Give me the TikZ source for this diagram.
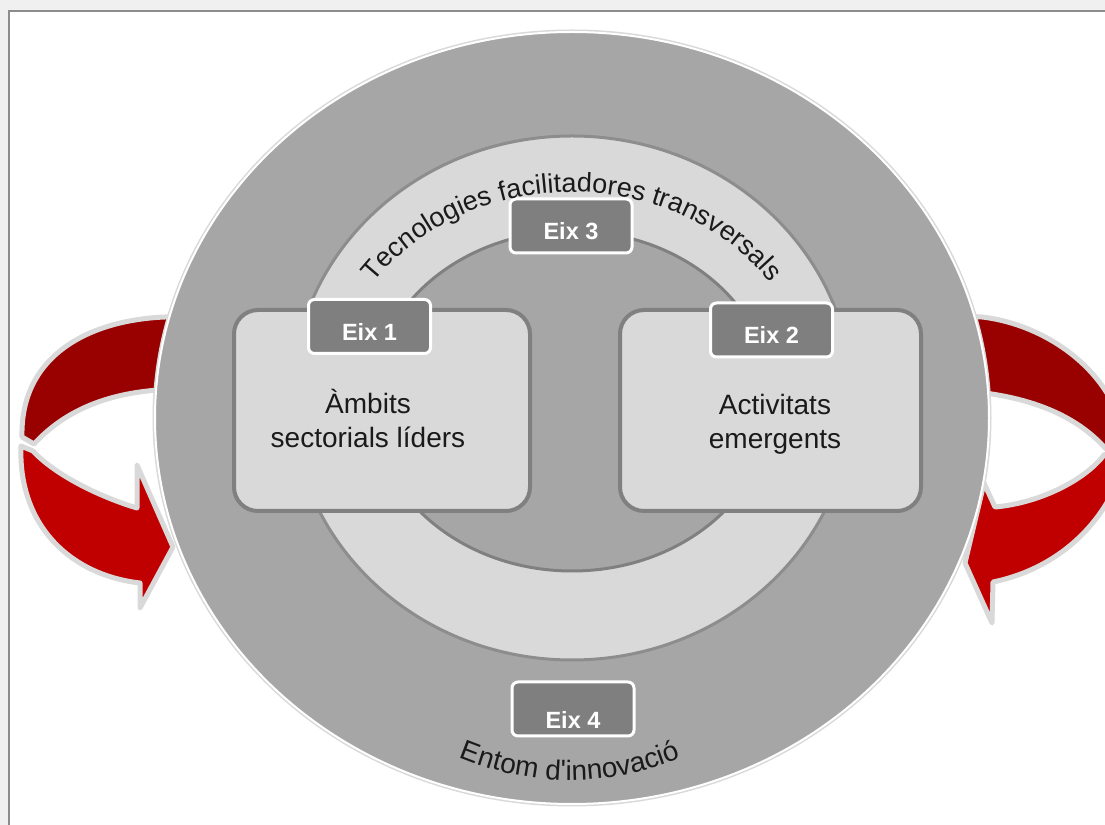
\documentclass[tikz,border=0pt]{standalone}
\usepackage{fontspec}
\setmainfont{Liberation Sans}[Ligatures=TeXOff]
\usetikzlibrary{decorations.text}

\definecolor{framegray}{HTML}{8C8C8C}
\definecolor{outergray}{HTML}{A6A6A6}
\definecolor{ringgray}{HTML}{D9D9D9}
\definecolor{edgegray}{HTML}{808080}
\definecolor{tabgray}{HTML}{7F7F7F}
\definecolor{darkred}{HTML}{990000}
\definecolor{brightred}{HTML}{C00000}
\definecolor{textdark}{HTML}{1A1A1A}

\newcommand\curvedfont{\fontsize{13.5}{16}\selectfont\color{textdark}}
\newcommand\bottomfont{\fontsize{14}{16}\selectfont\color{textdark}}

\tikzset{
  panel/.style={draw=edgegray, fill=ringgray, line width=2pt, rounded corners=12pt,
    minimum height=100.5pt},
  panellabel/.style={align=center, text=textdark, font=\fontsize{14}{17}\selectfont},
  eixtab/.style={draw=white, fill=tabgray, line width=1.5pt, rounded corners=3pt,
    minimum width=61pt, minimum height=27pt, inner sep=0pt, text=white,
    font=\fontsize{11.75}{14}\selectfont\bfseries, text height=13.9pt, text depth=0pt},
  ribbon/.style={draw=ringgray, line width=2.5pt, line join=round},
}

\begin{document}
\begin{tikzpicture}[x=0.5pt,y=0.5pt]
  \useasboundingbox (0,0) rectangle (1105,825);
  \clip (0,0) rectangle (1105,825);
  % Frame
  \fill[black!6] (0,0) rectangle (1105,825);
  \fill[white] (9,0) rectangle (1105,814);
  \draw[framegray, line width=1pt] (9,0) -- (9,814) -- (1105,814);
  % Arrows
  \filldraw[ribbon, fill=darkred] (185,509) -- (165,508) .. controls (90,505) and (20,470) .. (22,388)
    -- (34,381) .. controls (70,420) and (120,436) .. (185,436) -- cycle;
  \filldraw[ribbon, fill=brightred] (21,379) .. controls (18,300) and (70,250) .. (140,242)
    -- (140,217) -- (173,278) -- (137,360) -- (137,317)
    .. controls (100,328) and (55,350) .. (33,374) -- cycle;
  \filldraw[ribbon, fill=darkred] (965,509) -- (982,508) .. controls (1050,500) and (1115,450) .. (1124,386)
    -- (1106,376) .. controls (1085,400) and (1045,428) .. (965,434) -- cycle;
  \filldraw[ribbon, fill=brightred] (1124,378) .. controls (1126,340) and (1085,262) .. (993,243)
    -- (992,202) -- (965,262) -- (984,342) -- (995,318)
    .. controls (1040,322) and (1085,345) .. (1104,370) -- cycle;
  % Rings
  \draw[black!15, line width=2.5pt] (572,407) ellipse [x radius=417, y radius=386];
  \filldraw[fill=outergray, draw=white, line width=1pt] (572,407) ellipse [x radius=417, y radius=386];
  \filldraw[fill=ringgray, draw=edgegray!90, line width=1.5pt] (572,427) ellipse [x radius=280, y radius=262];
  \filldraw[fill=outergray, draw=edgegray, line width=1.5pt] (572,424) ellipse [x radius=200, y radius=170];
  % Nodes
  \node[panel, minimum width=148pt] (ambits) at (382,414.5) {};
  \node[panel, minimum width=150.5pt] (activitats) at (770.5,414.5) {};
  \node[panellabel] (ambitstext) at (368,406) {Àmbits\\sectorials líders};
  \node[panellabel] (activitatstext) at (775,401) {Activitats\\emergents};
  \node[eixtab] (eix1) at (369.5,498.5) {Eix 1};
  \node[eixtab] (eix2) at (771.5,495) {Eix 2};
  \node[eixtab] (eix3) at (571,599) {Eix 3};
  \node[eixtab, text height=19.4pt] (eix4) at (573,116) {Eix 4};
  % Curved labels
  \path[decorate, decoration={text along path, text align=center,
      text={|\curvedfont|Tecnologies facilitadores transversals}}]
    (346.5,496.1) arc[start angle=160, end angle=20, x radius=240, y radius=208];
  \path[decorate, decoration={text along path, text align=center,
      text={|\bottomfont|Entom d'innovació}}]
    (264.6,290.4) arc[start angle=200, end angle=340, x radius=325, y radius=373];
\end{tikzpicture}
\end{document}
